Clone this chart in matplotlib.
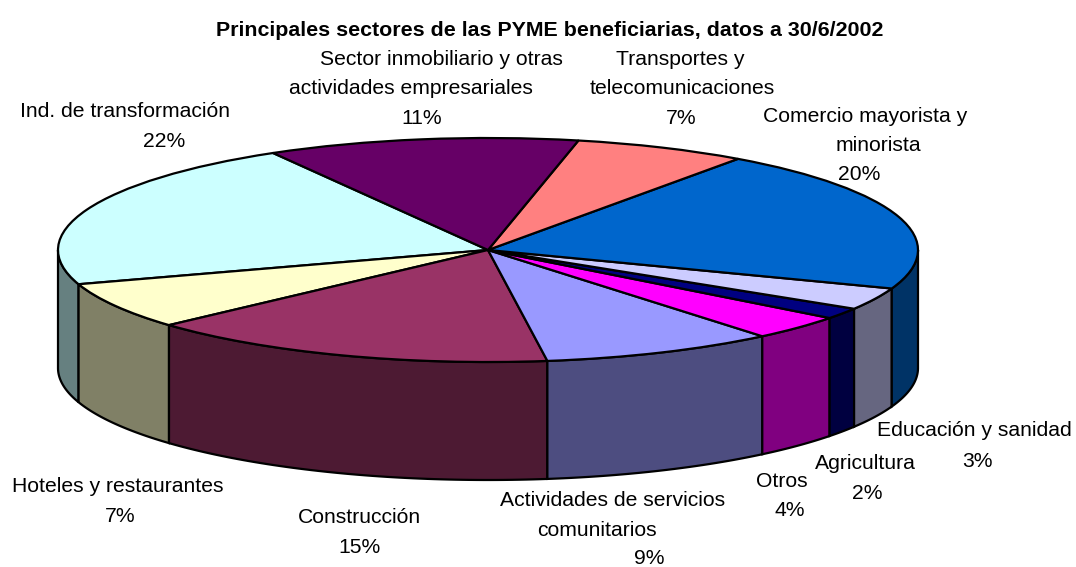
import numpy as np
import matplotlib
matplotlib.use('Agg')
import matplotlib.pyplot as plt
from matplotlib.colors import to_rgb

plt.rcParams['font.family'] = ['Liberation Sans', 'DejaVu Sans']

# data, counter clockwise from the Ind. slice
sectors = [['Ind. de transformación'], ['Hoteles y restaurantes'], ['Construcción'],
           ['Actividades de servicios', 'comunitarios'], ['Otros'], ['Agricultura'],
           ['Educación y sanidad'], ['Comercio mayorista y', 'minorista'],
           ['Transportes y', 'telecomunicaciones'],
           ['Sector inmobiliario y otras', 'actividades empresariales']]
percent_labels = [22, 7, 15, 9, 4, 2, 3, 20, 7, 11]
# slice sizes as measured on the picture, the labels are rounded
values = [21.6, 6.75, 15.5, 8.8, 3.6, 1.6, 3.2, 20.7, 6.5, 11.7]
colors = ['#CCFFFF', '#FFFFCC', '#993366', '#9999FF', '#FF00FF', '#000080',
          '#CCCCFF', '#0066CC', '#FF8080', '#660066']
title = 'Principales sectores de las PYME beneficiarias, datos a 30/6/2002'

# pixel centre of every label line, the lines are not centred on each other
label_pos = [[(125, 110), (164, 140)],
             [(118, 485), (120, 515)],
             [(359, 516), (359, 546)],
             [(613, 499), (597, 529), (649, 557)],
             [(782, 480), (790, 509)],
             [(865, 462), (867, 492)],
             [(974, 429), (977, 460)],
             [(865, 115), (878, 144), (859, 173)],
             [(680, 58), (682, 87), (681, 117)],
             [(441, 58), (411, 87), (422, 117)]]

W, H = 1076, 567
cx, cy = 488, 250    # pie centre, pixels
rx, ry = 430, 112    # top ellipse radii, pixels
depth = 118
start = 120

fig = plt.figure(figsize=(W / 100, H / 100), dpi=100)
ax = fig.add_axes([0, 0, 1, 1])


def darker(c):
    return tuple(v * 0.5 for v in to_rgb(c))


# side walls, only the front half of the disc shows
edges = start + np.cumsum([0] + values) / sum(values) * 360
d = depth / ry
for i in range(len(values)):
    a0, a1 = edges[i], edges[i + 1]
    a0 = max(a0, 180)
    a1 = min(a1, 360)
    if a1 <= a0:
        continue
    t = np.radians(np.linspace(a0, a1, 60))
    xs = np.r_[np.cos(t), np.cos(t[::-1])]
    ys = np.r_[np.sin(t), np.sin(t[::-1]) - d]
    ax.fill(xs, ys, facecolor=darker(colors[i]), edgecolor='black', lw=1.6, zorder=1)

ax.pie(values, colors=colors, startangle=start, counterclock=True, radius=1,
       wedgeprops={'edgecolor': 'black', 'linewidth': 1.6, 'zorder': 2})

ax.set_aspect('auto')
ax.set_xlim(-cx / rx, (W - cx) / rx)
ax.set_ylim((cy - H) / ry, cy / ry)
ax.axis('off')


def put(x, y, s, **kw):
    # y is the middle of the x-height line, text sits on its baseline
    fig.text(x / W, 1 - (y + 7) / H, s, ha='center', va='baseline', color='black', **kw)


put(550, 29, title, fontsize=15.4, fontweight='bold')
for lines, v, pos in zip(sectors, percent_labels, label_pos):
    for s, (x, y) in zip(lines + [f'{v}%'], pos):
        put(x, y, s, fontsize=15.2)

fig.savefig('out.png', dpi=100, facecolor='white')
